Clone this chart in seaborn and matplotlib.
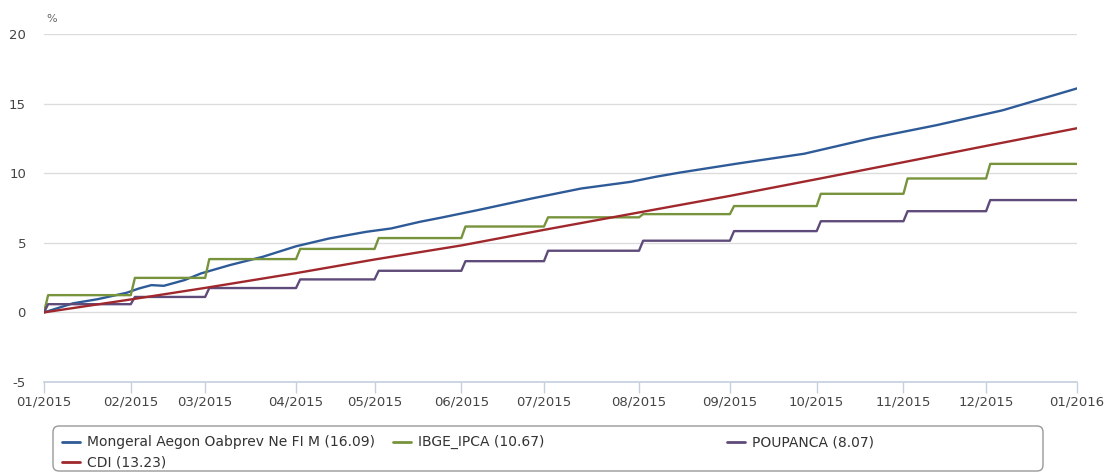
import numpy as np
import pandas as pd
import matplotlib.pyplot as plt
import seaborn as sns
from matplotlib.lines import Line2D
from matplotlib.patches import FancyBboxPatch

# x axis is trading days, ticks at the first trading day of each month
month_labels = ["01/2015", "02/2015", "03/2015", "04/2015", "05/2015", "06/2015",
                "07/2015", "08/2015", "09/2015", "10/2015", "11/2015", "12/2015", "01/2016"]
trading_days = [21, 18, 22, 19, 21, 20, 23, 22, 21, 21, 20, 22]

# fund
fund_days = [0, 7, 13, 20, 23, 26, 29, 34, 38, 45, 53, 61, 69, 78, 84, 91, 96,
             105, 118, 130, 142, 148, 154, 168, 184, 200, 216, 232, 250]
fund_values = [0, 0.65, 0.95, 1.41, 1.72, 1.96, 1.91, 2.32, 2.80, 3.40, 4.0, 4.75, 5.31,
               5.79, 6.03, 6.51, 6.80, 7.35, 8.18, 8.90, 9.38, 9.74, 10.05, 10.7, 11.4,
               12.5, 13.45, 14.52, 16.09]

# accumulated level during each month
ipca_levels = [1.24, 2.48, 3.83, 4.56, 5.34, 6.17, 6.83, 7.06, 7.64, 8.52, 9.62, 10.67]
poup_levels = [0.59, 1.11, 1.75, 2.37, 2.99, 3.68, 4.43, 5.15, 5.84, 6.55, 7.27, 8.07]

# CDI accumulated at each month start
cdi_values = [0, 0.93, 1.76, 2.82, 3.80, 4.81, 5.93, 7.18, 8.37, 9.57, 10.79, 11.96, 13.23]

names = ["Mongeral Aegon Oabprev Ne FI M (16.09)", "IBGE_IPCA (10.67)",
         "POUPANCA (8.07)", "CDI (13.23)"]
colors = ["#2e5b98", "#77933c", "#5f4b7a", "#a0282d"]

month_starts = np.concatenate([[0], np.cumsum(trading_days)])


def steps(levels):
    xs, ys = [0], [0]
    for m, lev in enumerate(levels):
        xs += [month_starts[m] + 1, month_starts[m + 1]]
        ys += [lev, lev]
    return xs, ys


ipca_x, ipca_y = steps(ipca_levels)
poup_x, poup_y = steps(poup_levels)

df = pd.concat([
    pd.DataFrame({"day": fund_days, "value": fund_values, "serie": names[0]}),
    pd.DataFrame({"day": ipca_x, "value": ipca_y, "serie": names[1]}),
    pd.DataFrame({"day": poup_x, "value": poup_y, "serie": names[2]}),
    pd.DataFrame({"day": month_starts, "value": cdi_values, "serie": names[3]}),
])

sns.set_style("white")
plt.rcParams["axes.unicode_minus"] = False
fig = plt.figure(figsize=(11.11, 4.74), dpi=100)
ax = fig.add_axes([44 / 1111, 1 - 382 / 474, (1077 - 44) / 1111, (382 - 34) / 474])

sns.lineplot(data=df, x="day", y="value", hue="serie", palette=dict(zip(names, colors)),
             estimator=None, sort=False, legend=False, linewidth=1.7, ax=ax)

ax.set_xlim(0, month_starts[-1])
ax.set_ylim(-5, 20)
ax.set_yticks([-5, 0, 5, 10, 15, 20])
ax.set_xticks(month_starts)
ax.set_xticklabels(month_labels)
ax.set_xlabel("")
ax.set_ylabel("")

for y in [0, 5, 10, 15, 20]:
    ax.axhline(y, color="#dcdcdc", lw=1, zorder=0)

for s in ["top", "right", "left"]:
    ax.spines[s].set_visible(False)
ax.spines["bottom"].set_color("#c3d0df")
ax.spines["bottom"].set_linewidth(1.2)
ax.tick_params(axis="x", bottom=True, direction="out", length=8, width=1, color="#c3d0df",
               labelsize=9.5, labelcolor="#444444", pad=2)
ax.tick_params(axis="y", left=False, length=0, labelsize=9.5, labelcolor="#444444", pad=13)

fig.text(46 / 1111, 1 - 19 / 474, "%", fontsize=8, color="#666666", va="center")

# legend box drawn by hand (columns are not evenly spaced)
box = FancyBboxPatch((0.53, 0.03), 9.90, 0.45, boxstyle="round,pad=0,rounding_size=0.06",
                     transform=fig.dpi_scale_trans, ec="#999999", fc="white", lw=1)
fig.add_artist(box)
entries = [(62, 442), (393, 442), (727, 442), (62, 462)]
for (px, py), name, c in zip(entries, names, colors):
    y = (474 - py) / 100
    fig.add_artist(Line2D([px / 100, (px + 18) / 100], [y, y], transform=fig.dpi_scale_trans,
                          color=c, lw=2))
    fig.text((px + 25) / 100, y, name, transform=fig.dpi_scale_trans, fontsize=10,
             color="#333333", va="center")

plt.savefig("out.png", dpi=100)
